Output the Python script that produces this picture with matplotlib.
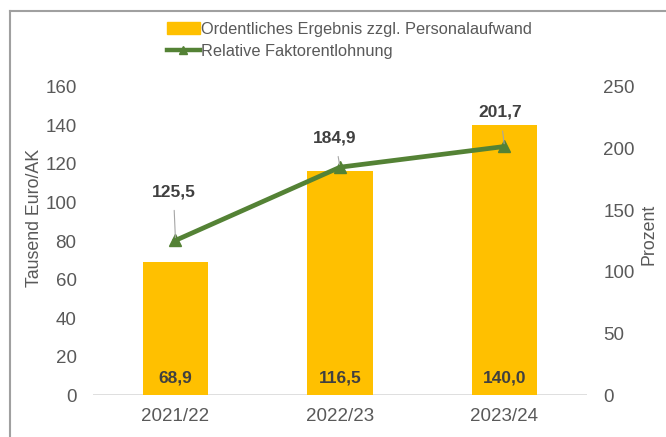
import matplotlib
matplotlib.use('Agg')
import matplotlib.pyplot as plt
from matplotlib.lines import Line2D

years = ['2021/22', '2022/23', '2023/24']
ergebnis = [68.9, 116.5, 140.0]
faktor = [125.5, 184.9, 201.7]
bar_labels = ['68,9', '116,5', '140,0']
line_labels = ['125,5', '184,9', '201,7']

BAR_COL = '#FFC000'
LINE_COL = '#548235'
TXT = '#595959'

plt.rcParams['font.family'] = ['Liberation Sans', 'DejaVu Sans']

fig = plt.figure(figsize=(6.66, 4.37), dpi=100)
ax = fig.add_axes([0.14, 0.096, 0.741, 0.705])
ax2 = ax.twinx()

x = list(range(len(years)))
ax.bar(x, ergebnis, width=0.4, color=BAR_COL, zorder=2,
       label='Ordentliches Ergebnis zzgl. Personalaufwand')
for xi, lab in zip(x, bar_labels):
    ax.text(xi, 9, lab, ha='center', va='center', fontsize=12.5,
            fontweight='bold', color='#404040')

ax2.plot(x, faktor, color=LINE_COL, lw=3.4, marker='^', ms=9, zorder=3)
# label offsets (points)
offs = [(-1.5, 35), (-3.6, 21), (-3, 24.5)]
for xi, v, lab, (dx, dy) in zip(x, faktor, line_labels, offs):
    ax2.annotate(lab, (xi, v), xytext=(dx, dy), textcoords='offset points',
                 ha='center', va='center', fontsize=12.5, fontweight='bold',
                 color='#404040',
                 arrowprops=dict(arrowstyle='-', color='#A6A6A6', lw=0.8,
                                 shrinkA=6, shrinkB=2))

ax.set_xlim(-0.5, 2.5)
ax.set_ylim(0, 160)
ax2.set_ylim(0, 250)
ax.set_yticks(range(0, 161, 20))
ax2.set_yticks(range(0, 251, 50))
ax.set_xticks(x)
ax.set_xticklabels(years)

for a in (ax, ax2):
    for s in a.spines.values():
        s.set_visible(False)
    a.tick_params(length=0, labelsize=13.5, colors=TXT)
ax.tick_params(axis='y', pad=12)
ax2.tick_params(axis='y', pad=12)
ax.tick_params(axis='x', pad=9)
ax.axhline(0, color='#D9D9D9', lw=1.2, zorder=1)

ax.set_ylabel('Tausend Euro/AK', fontsize=12.8, color=TXT)
ax.yaxis.set_label_coords(-0.102, 0.575)
ax2.set_ylabel('Prozent', fontsize=12.8, color=TXT)
ax2.yaxis.set_label_coords(1.108, 0.52)

handles = [plt.Rectangle((0, 0), 1, 1, color=BAR_COL),
           Line2D([], [], color=LINE_COL, lw=3.2, marker='^', ms=6)]
fig.legend(handles, ['Ordentliches Ergebnis zzgl. Personalaufwand',
                     'Relative Faktorentlohnung'],
           loc='upper center', bbox_to_anchor=(0.525, 0.965), frameon=False,
           fontsize=11.8, labelcolor=TXT, handlelength=2.0, handletextpad=0.1,
           labelspacing=0.45, borderaxespad=0)

# outer frame (top and left edges)
fig.add_artist(Line2D([0.015, 1.0], [0.975, 0.975], color='#A0A0A0', lw=1.5))
fig.add_artist(Line2D([0.015, 0.015], [0.0, 0.975], color='#A0A0A0', lw=1.5))

fig.savefig('out.png', dpi=100)
